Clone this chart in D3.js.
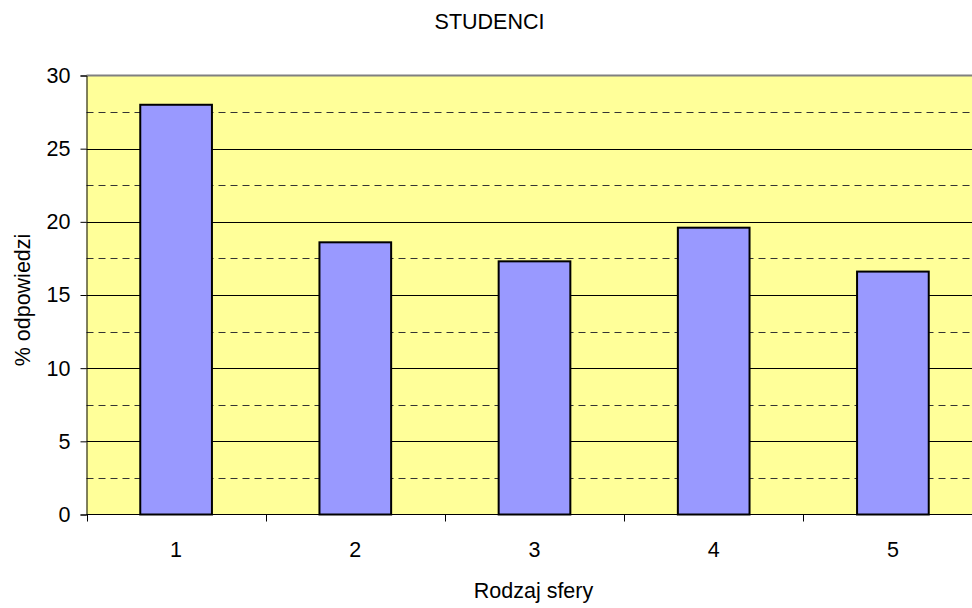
<!DOCTYPE html>
<html>
<head>
<meta charset="utf-8">
<script src="https://cdn.jsdelivr.net/npm/d3@7"></script>
<style>
  html, body { margin: 0; padding: 0; background: #fff; }
  svg { display: block; font-family: "Liberation Sans", Arial, sans-serif; }
</style>
</head>
<body>
<svg id="chart" width="972" height="608"></svg>
<script>
// Response share by sphere type
const categories = ["1", "2", "3", "4", "5"];
const values = [28, 18.6, 17.3, 19.6, 16.6];
const yTicks = [0, 5, 10, 15, 20, 25, 30];
const yMinorTicks = [2.5, 7.5, 12.5, 17.5, 22.5, 27.5];

const svg = d3.select("#chart");
const plotLeft = 86.5, plotRight = 982.5, plotTop = 75.5, plotBottom = 514.5;
const fontSize = 21.5;

const x = d3.scaleBand().domain(categories).range([plotLeft, plotRight]).paddingInner(0.6).paddingOuter(0.3);
const xOuter = d3.scaleBand().domain(categories).range([plotLeft, plotRight]);
const y = d3.scaleLinear().domain([0, 30]).range([plotBottom, plotTop]);

// plot background
svg.append("rect")
  .attr("x", plotLeft).attr("y", plotTop)
  .attr("width", plotRight - plotLeft).attr("height", plotBottom - plotTop)
  .attr("fill", "#FFFF99");

// minor dashed gridlines
svg.append("g").selectAll("line").data(yMinorTicks).join("line")
  .attr("x1", plotLeft).attr("x2", plotRight)
  .attr("y1", d => Math.round(y(d)) + 0.5).attr("y2", d => Math.round(y(d)) + 0.5)
  .attr("stroke", "#333").attr("stroke-width", 1)
  .attr("stroke-dasharray", "7,5");

// major solid gridlines
svg.append("g").selectAll("line").data(yTicks.filter(d => d > 0 && d < 30)).join("line")
  .attr("x1", plotLeft).attr("x2", plotRight)
  .attr("y1", d => Math.round(y(d)) + 0.5).attr("y2", d => Math.round(y(d)) + 0.5)
  .attr("stroke", "#000").attr("stroke-width", 1);

// plot border top
svg.append("line")
  .attr("x1", plotLeft).attr("x2", plotRight)
  .attr("y1", plotTop).attr("y2", plotTop)
  .attr("stroke", "#808080").attr("stroke-width", 2);

// bars
svg.append("g").selectAll("rect").data(values).join("rect")
  .attr("x", (d, i) => x(categories[i]))
  .attr("y", d => y(d))
  .attr("width", x.bandwidth())
  .attr("height", d => y(0) - y(d))
  .attr("fill", "#9999FF")
  .attr("stroke", "#000")
  .attr("stroke-width", 2);

// y axis
const yAxis = d3.axisLeft(y).tickValues(yTicks).tickSize(6).tickPadding(10);
const gy = svg.append("g").attr("transform", `translate(${plotLeft},0)`).call(yAxis);
gy.select(".domain").attr("stroke", "#000").attr("stroke-width", 1);
gy.selectAll(".tick line").attr("stroke", "#000");
gy.selectAll("text").attr("font-size", fontSize).attr("fill", "#000")
  .attr("font-family", "Liberation Sans, Arial, sans-serif");

// x axis with ticks at category boundaries
const gx = svg.append("g").attr("transform", `translate(0,${plotBottom})`);
gx.append("line").attr("x1", plotLeft).attr("x2", plotRight).attr("y1", 0).attr("y2", 0)
  .attr("stroke", "#000").attr("stroke-width", 1);
const bounds = categories.map(c => xOuter(c)).concat([plotRight]);
gx.selectAll("line.tk").data(bounds).join("line").attr("class", "tk")
  .attr("x1", d => Math.round(d) + 0.5).attr("x2", d => Math.round(d) + 0.5)
  .attr("y1", 0).attr("y2", 7)
  .attr("stroke", "#000");
gx.selectAll("text").data(categories).join("text")
  .attr("x", d => x(d) + x.bandwidth() / 2)
  .attr("y", 42)
  .attr("text-anchor", "middle")
  .attr("font-size", fontSize)
  .text(d => d);

// titles
svg.append("text").attr("x", 489.5).attr("y", 29).attr("text-anchor", "middle")
  .attr("font-size", fontSize).text("STUDENCI");
svg.append("text").attr("x", 533.5).attr("y", 598).attr("text-anchor", "middle")
  .attr("font-size", fontSize).text("Rodzaj sfery");
svg.append("text")
  .attr("transform", `translate(30,300) rotate(-90)`)
  .attr("text-anchor", "middle")
  .attr("font-size", fontSize).text("% odpowiedzi");
</script>
</body>
</html>
